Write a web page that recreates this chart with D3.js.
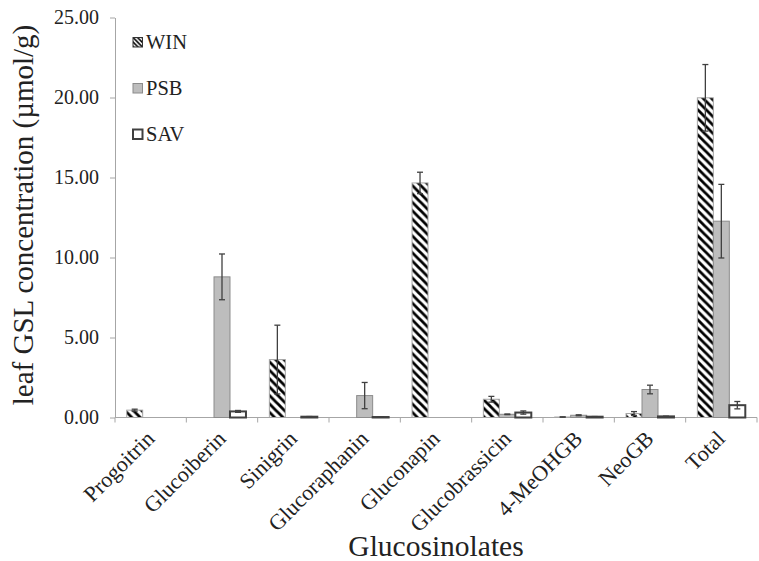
<!DOCTYPE html>
<html>
<head>
<meta charset="utf-8">
<script src="https://cdn.jsdelivr.net/npm/d3@7"></script>
<style>
    body { margin: 0; background: #fff; }
    svg { display: block; font-family: "Liberation Serif", "DejaVu Serif", serif; }
</style>
</head>
<body>
<svg id="chart" width="759" height="561"></svg>
<script>
// values
var categories = ["Progoitrin", "Glucoiberin", "Sinigrin", "Glucoraphanin", "Gluconapin",
                  "Glucobrassicin", "4-MeOHGB", "NeoGB", "Total"];
var seriesNames = ["WIN", "PSB", "SAV"];
var winValues = [0.46, 0, 3.62, 0, 14.66, 1.14, 0.03, 0.25, 19.98];
var winErrors = [0.06, 0, 2.15, 0, 0.67, 0.18, 0.01, 0.12, 2.08];
var psbValues = [0, 8.79, 0, 1.37, 0, 0.2, 0.14, 1.75, 12.27];
var psbErrors = [0, 1.43, 0, 0.82, 0, 0.02, 0.03, 0.27, 2.3];
var savValues = [0, 0.38, 0.05, 0.03, 0, 0.31, 0.05, 0.07, 0.77];
var savErrors = [0, 0.06, 0.01, 0.01, 0, 0.1, 0.01, 0.01, 0.23];
var yTicks = [0, 5, 10, 15, 20, 25];

var chart = {

    left: 115, right: 757, top: 17.5, bottom: 417.5,
    axisColor: "#a6a6a6",

    index: function () {
        var svg = d3.select("#chart");
        chart.defs(svg);

        var x = d3.scaleBand().domain(categories).range([chart.left, chart.right]);
        var inner = d3.scaleBand().domain(seriesNames)
            .range([11.7, x.bandwidth() - 11.7]);
        var y = d3.scaleLinear().domain([0, 25]).range([chart.bottom, chart.top]);

        var rows = [];
        var vals = [winValues, psbValues, savValues];
        var errs = [winErrors, psbErrors, savErrors];
        categories.forEach(function (c, i) {
            seriesNames.forEach(function (s, j) {
                rows.push({cat: c, series: s, value: vals[j][i], err: errs[j][i]});
            });
        });

        // y axis
        var yAxis = svg.append("g")
            .attr("transform", "translate(" + chart.left + ",0)")
            .call(d3.axisLeft(y).tickValues(yTicks).tickFormat(d3.format(".2f"))
                .tickSize(5).tickSizeOuter(0).tickPadding(11));
        yAxis.select(".domain").attr("stroke", chart.axisColor);
        yAxis.selectAll(".tick line").attr("stroke", chart.axisColor);
        yAxis.selectAll("text").attr("font-size", 20).attr("fill", "#222")
            .attr("font-family", "Liberation Serif");

        // x axis with ticks between categories
        var xAxis = svg.append("g");
        xAxis.append("line")
            .attr("x1", chart.left).attr("x2", chart.right)
            .attr("y1", chart.bottom).attr("y2", chart.bottom)
            .attr("stroke", chart.axisColor);
        var bounds = categories.map(function (c) { return x(c); }).concat([chart.right]);
        xAxis.selectAll("line.tk").data(bounds).enter().append("line")
            .attr("class", "tk")
            .attr("x1", function (d) { return d; }).attr("x2", function (d) { return d; })
            .attr("y1", chart.bottom).attr("y2", chart.bottom + 5)
            .attr("stroke", chart.axisColor);
        xAxis.selectAll("text").data(categories).enter().append("text")
            .attr("transform", function (d) {
                return "translate(" + (x(d) + x.bandwidth() / 2 + 5) + "," + 440 + ") rotate(-45)";
            })
            .attr("text-anchor", "end")
            .attr("font-size", 22).attr("fill", "#222")
            .text(function (d) { return d; });

        // bars
        svg.append("g").selectAll("rect")
            .data(rows.filter(function (d) { return d.value > 0; }))
            .enter().append("rect")
            .attr("x", function (d) { return x(d.cat) + inner(d.series); })
            .attr("width", inner.bandwidth())
            .attr("y", function (d) { return y(d.value); })
            .attr("height", function (d) { return y(0) - y(d.value); })
            .each(function (d) { chart.styleBar(d3.select(this), d.series); });

        // error bars
        var eb = svg.append("g").attr("stroke", "#404040").attr("stroke-width", 1.3)
            .selectAll("g")
            .data(rows.filter(function (d) { return d.value > 0 && d.err > 0; }))
            .enter().append("g")
            .attr("transform", function (d) {
                return "translate(" + (x(d.cat) + inner(d.series) + inner.bandwidth() / 2) + ",0)";
            });
        eb.append("line")
            .attr("y1", function (d) { return y(d.value - d.err); })
            .attr("y2", function (d) { return y(d.value + d.err); });
        eb.append("line").attr("x1", -3).attr("x2", 3)
            .attr("y1", function (d) { return y(d.value + d.err); })
            .attr("y2", function (d) { return y(d.value + d.err); });
        eb.append("line").attr("x1", -3).attr("x2", 3)
            .attr("y1", function (d) { return y(d.value - d.err); })
            .attr("y2", function (d) { return y(d.value - d.err); });

        // legend
        var leg = svg.append("g").selectAll("g").data(seriesNames).enter().append("g")
            .attr("transform", function (d, i) { return "translate(133," + (37.5 + i * 46) + ")"; });
        leg.append("rect").attr("width", 9.5).attr("height", 9.5)
            .each(function (d) { chart.styleBar(d3.select(this), d, true); });
        leg.append("text").attr("x", 13).attr("y", 11).attr("font-size", 20.5)
            .attr("fill", "#222").text(function (d) { return d; });

        // axis titles
        svg.append("text")
            .attr("x", 436).attr("y", 556)
            .attr("text-anchor", "middle").attr("font-size", 29.5).attr("fill", "#222")
            .text("Glucosinolates");
        svg.append("text")
            .attr("transform", "translate(33,215) rotate(-90)")
            .attr("text-anchor", "middle").attr("font-size", 29).attr("fill", "#222")
            .text("leaf GSL concentration (\u00b5mol/g)");
    },

    styleBar: function (sel, series, legend) {
        if (series === "WIN") {
            sel.attr("fill", legend ? "url(#hatchSmall)" : "url(#hatch)")
                .attr("stroke", legend ? "#333" : "#a6a6a6").attr("stroke-width", 1);
        } else if (series === "PSB") {
            sel.attr("fill", "#bdbdbd").attr("stroke", "#8c8c8c").attr("stroke-width", 1);
        } else {
            sel.attr("fill", "#fff").attr("stroke", "#404040").attr("stroke-width", 2);
        }
    },

    defs: function (svg) {
        var defs = svg.append("defs");
        [["hatch", 8.4, 2.8], ["hatchSmall", 4.5, 1.6]].forEach(function (p) {
            var s = p[1];
            var pat = defs.append("pattern").attr("id", p[0])
                .attr("patternUnits", "userSpaceOnUse")
                .attr("width", s).attr("height", s);
            pat.append("rect").attr("width", s).attr("height", s).attr("fill", "#fff");
            pat.append("path")
                .attr("d", "M0,0L" + s + "," + s + "M" + (-s / 2) + "," + (s / 2) + "L" + (s / 2) + "," + (s * 1.5)
                    + "M" + (s / 2) + "," + (-s / 2) + "L" + (s * 1.5) + "," + (s / 2))
                .attr("stroke", "#000").attr("stroke-width", p[2]);
        });
    }
};

chart.index();
</script>
</body>
</html>
